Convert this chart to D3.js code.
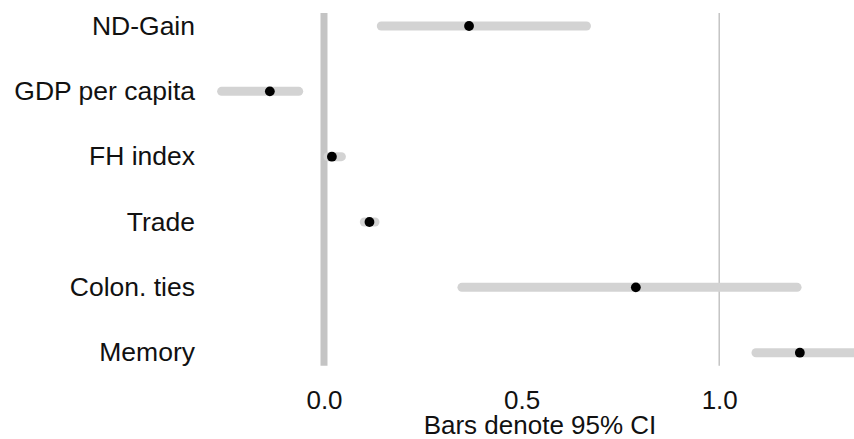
<!DOCTYPE html>
<html>
<head>
<meta charset="utf-8">
<script src="https://cdn.jsdelivr.net/npm/d3@7"></script>
<style>
  body { margin: 0; background: #fff; }
  text { font-family: "Liberation Sans", Arial, Helvetica, sans-serif; }
</style>
</head>
<body>
<div id="chart"></div>
<script>
// coefficient estimates with 95% intervals
var terms = ["ND-Gain", "GDP per capita", "FH index", "Trade", "Colon. ties", "Memory"],
  estimate = [0.367, -0.137, 0.020, 0.115, 0.789, 1.204],
  lower = [0.145, -0.259, 0.010, 0.102, 0.349, 1.093],
  upper = [0.664, -0.064, 0.044, 0.129, 1.197, 1.400],
  xTicks = [0, 0.5, 1],
  refLines = [0, 1];

var width = 854,
  height = 439;

var rows = terms.map(function(t, i) {
  return { term: t, est: estimate[i], lo: lower[i], hi: upper[i] };
});

var xScale = d3.scaleLinear()
  .domain([-0.2935, 1.341])
  .range([208, 854]);

var yScale = d3.scalePoint()
  .domain(terms)
  .range([26, 352.7]);

var step = yScale.step();

var svg = d3.select("#chart").append("svg")
  .attr("width", width)
  .attr("height", height);

var plot = svg.append("g");

plot.append("clipPath").attr("id", "clip")
  .append("rect")
  .attr("x", xScale.range()[0]).attr("y", 0)
  .attr("width", xScale.range()[1] - xScale.range()[0]).attr("height", height);

// reference lines at 0 and 1
plot.selectAll("line.ref")
  .data(refLines)
  .enter().append("line")
  .attr("class", "ref")
  .attr("x1", function(d) { return xScale(d); })
  .attr("x2", function(d) { return xScale(d); })
  .attr("y1", yScale(terms[0]) - step * 0.2)
  .attr("y2", yScale(terms[terms.length - 1]) + step * 0.2)
  .attr("stroke", "#c4c4c4")
  .attr("stroke-width", function(d) { return d === 0 ? 7 : 1.5; });

var g = plot.append("g").attr("clip-path", "url(#clip)");

g.selectAll("line.ci")
  .data(rows)
  .enter().append("line")
  .attr("class", "ci")
  .attr("x1", function(d) { return xScale(d.lo); })
  .attr("x2", function(d) { return xScale(d.hi); })
  .attr("y1", function(d) { return yScale(d.term); })
  .attr("y2", function(d) { return yScale(d.term); })
  .attr("stroke", "#d3d3d3")
  .attr("stroke-width", 9)
  .attr("stroke-linecap", "round");

g.selectAll("circle")
  .data(rows)
  .enter().append("circle")
  .attr("cx", function(d) { return xScale(d.est); })
  .attr("cy", function(d) { return yScale(d.term); })
  .attr("r", 4.9)
  .attr("fill", "#000");

// term labels
svg.append("g")
  .selectAll("text")
  .data(terms)
  .enter().append("text")
  .attr("x", 195)
  .attr("y", function(d) { return yScale(d); })
  .attr("dy", "0.33em")
  .attr("text-anchor", "end")
  .attr("font-size", 26.5)
  .attr("fill", "#111")
  .text(function(d) { return d; });

// x axis
var xAxis = d3.axisBottom(xScale)
  .tickValues(xTicks)
  .tickFormat(d3.format(".1f"))
  .tickSize(0)
  .tickPadding(0);

var ax = svg.append("g")
  .attr("transform", "translate(0,408.5)")
  .call(xAxis);
ax.select(".domain").remove();
ax.selectAll("text")
  .attr("font-size", 26)
  .attr("font-family", "Liberation Sans, Arial, sans-serif")
  .attr("fill", "#111")
  .attr("dy", 0)
  .attr("y", 0);

svg.append("text")
  .attr("x", 540)
  .attr("y", 433.5)
  .attr("text-anchor", "middle")
  .attr("font-size", 26)
  .attr("fill", "#111")
  .text("Bars denote 95% CI");
</script>
</body>
</html>
